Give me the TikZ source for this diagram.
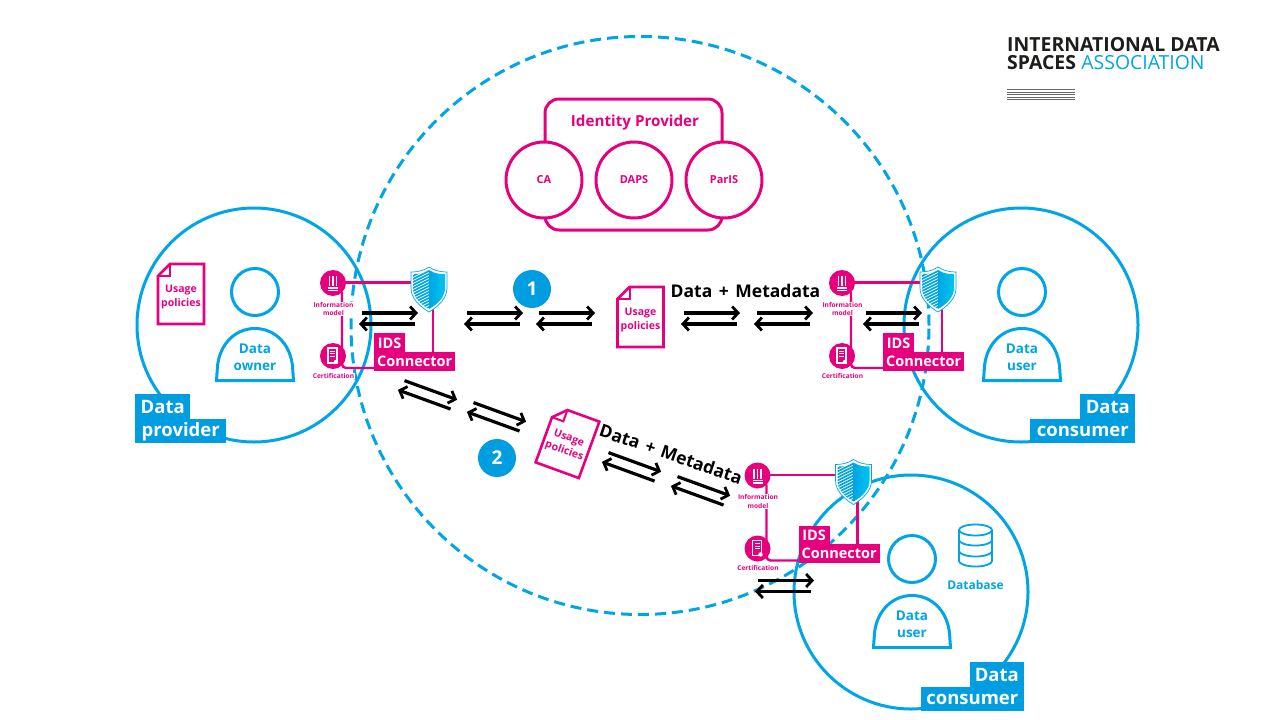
\documentclass[tikz,border=0pt]{standalone}
\usepackage{fontspec}
\setmainfont{Open Sans}
\usetikzlibrary{arrows.meta,shadings}
\definecolor{idsblue}{HTML}{00A5E5}
\definecolor{idsbox}{HTML}{009EE0}
\definecolor{idspink}{HTML}{E6007E}
\definecolor{logoblack}{HTML}{1D1D1B}
\tikzset{
  bigcircle/.style={draw=idsblue,line width=3pt,circle,fill=none,inner sep=0pt},
  dashcircle/.style={bigcircle,dash pattern=on 11pt off 6pt},
  blueline/.style={draw=idsblue,line width=3pt},
  pinkline/.style={draw=idspink,line width=2.4pt},
  bluetext/.style={text=idsblue,font=\fontsize{13.5}{17}\selectfont\bfseries,align=center,inner sep=0pt},
  pinktext/.style={text=idspink,font=\fontsize{10.5}{13.5}\selectfont\bfseries,align=center,inner sep=0pt},
  tinytext/.style={text=idspink,fill=white,font=\fontsize{6.6}{8.2}\selectfont\bfseries,align=center,inner sep=.5pt},
  bluebox/.style={fill=idsbox,text=white,font=\fontsize{18.5}{22}\selectfont\bfseries,inner sep=0pt},
  pinkbox/.style={fill=idspink,text=white,font=\fontsize{14.5}{18}\selectfont\bfseries,inner sep=0pt},
  caption/.style={text=black,font=\fontsize{17.5}{20}\selectfont\bfseries,inner sep=0pt},
  flow/.style={draw=black,line width=3.2pt,-{Straight Barb[length=6pt,width=13pt,line width=2.8pt]}},
  badge/.style={circle,fill=idsbox,text=white,minimum size=38pt,inner sep=0pt,font=\fontsize{19}{22}\selectfont\bfseries},
  idpcircle/.style={circle,draw=idspink,line width=3pt,fill=white,minimum size=76pt,inner sep=0pt,text=idspink,font=\fontsize{11}{13}\selectfont\bfseries},
  iconcircle/.style={circle,fill=idspink,minimum size=26pt,inner sep=0pt},
  logotext/.style={inner sep=0pt,anchor=base west,font=\fontsize{19.4}{22}\selectfont}
}
% pair of opposite arrows
\newcommand{\flowpair}[3]{%
  \begin{scope}[shift={(#2)},rotate=#3]
    \coordinate (#1a) at (-27,-5.5);
    \coordinate (#1b) at (29,-5.5);
    \coordinate (#1c) at (26,5.5);
    \coordinate (#1d) at (-30,5.5);
  \end{scope}
  \draw[flow] (#1a) -- (#1b);
  \draw[flow] (#1c) -- (#1d);
}
% person icon
\newcommand{\person}[4]{%
  \begin{scope}[shift={(#2,#3)}]
    \node[bigcircle,minimum size=47pt] (#1head) at (255,292) {};
    \draw[blueline] (216.5,380.5) -- (217.5,366) .. controls (220,343) and (236,328.5) .. (255,328.5)
       .. controls (274,328.5) and (290,343) .. (292.5,366) -- (293.5,380.5) -- cycle;
    \node[bluetext] (#1text) at (255,357.5) {#4};
  \end{scope}
}
% usage policy sheet
\newcommand{\usagedoc}[3]{%
  \begin{scope}[shift={(#2)},rotate=#3]
    \draw[pinkline,line width=2.6pt,fill=white] (-11,-30) -- (23,-30) -- (23,30) -- (-23,30) -- (-23,-18) -- cycle;
    \draw[pinkline,line width=2pt] (-11,-30) -- (-11,-18) -- (-23,-18);
    \node[pinktext,rotate=#3] (#1) at (0,3) {Usage\\policies};
  \end{scope}
}
% connector block
\newcommand{\idsblock}[3]{%
  \begin{scope}[shift={(#2,#3)}]
    \coordinate (#1corner) at (342,368);
    \coordinate (#1top) at (433,282.5);
    \draw[pinkline] (333,282.5) -- (#1top);
    \draw[pinkline,rounded corners=4pt] (342,292) -- (#1corner) -- (374,368);
    \draw[pinkline] (433,305) -- (433,352);
    \node[iconcircle] (#1info) at (333,283) {};
    \node[iconcircle] (#1cert) at (333,356) {};
    \node[pinkbox,anchor=north west,minimum width=31pt,minimum height=20pt] (#1ids) at (374,333) {IDS};
    \node[pinkbox,anchor=north west,minimum width=81pt,minimum height=19pt] (#1conn) at (374,351.5) {Connector};
    % shield
    \begin{scope}[shift={(429,290)}]
      \path[fill=white] (0,-23) .. controls (-6,-19) and (-12,-18) .. (-18,-18) -- (-18,-2) .. controls (-18,8) and (-10,16) .. (0,22)
        .. controls (10,16) and (18,8) .. (18,-2) -- (18,-18) .. controls (12,-18) and (6,-19) .. (0,-23) -- cycle;
      \begin{scope}
        \clip (0,-20) .. controls (-6,-16) and (-11,-16) .. (-16,-16) -- (-16,-2) .. controls (-16,7) and (-9,14) .. (0,19) -- cycle;
        \foreach \k in {-22,-19,...,26}{\draw[idsblue,line width=1.6pt] (-18,\k) -- (2,\k-10);}
      \end{scope}
      \shade[left color=idsblue,right color=idsblue!65!cyan]
        (0,-20) .. controls (6,-16) and (11,-16) .. (16,-16) -- (16,-2) .. controls (16,7) and (9,14) .. (0,19) -- cycle;
      \draw[idsblue,line width=.7pt] (0,-23) .. controls (-6,-19) and (-12,-18) .. (-18,-18) -- (-18,-2) .. controls (-18,8) and (-10,16) .. (0,22)
        .. controls (10,16) and (18,8) .. (18,-2) -- (18,-18) .. controls (12,-18) and (6,-19) .. (0,-23) -- cycle;
    \end{scope}
    % information model icon
    \foreach \dx in {-3.5,0,3.5}{\draw[white,line width=1.4pt] (333+\dx,276) -- (333+\dx,286);}
    \draw[white,line width=1.1pt] (328,288) -- (338,288) (328,290.5) -- (338,290.5);
    % certification icon
    \draw[white,line width=1.1pt] (328,348) rectangle (337,363);
    \draw[white,line width=.8pt] (330,351) -- (335,351) (330,353.5) -- (335,353.5) (330,356) -- (335,356);
    \fill[white] (336,362) circle (2.2);
    \node[tinytext] (#1infotext) at (333.5,309) {Information\\model};
    \node[tinytext] (#1certtext) at (333.5,376) {Certification};
  \end{scope}
}
\begin{document}
\begin{tikzpicture}[x=1pt,y=-1pt]
\useasboundingbox[fill=white] (0,0) rectangle (1280,720);
% large circles
\node[bigcircle,minimum size=234pt] (provider) at (254,325) {};
\node[bigcircle,minimum size=234pt] (consumerA) at (1021,325) {};
\node[bigcircle,minimum size=234pt] (consumerB) at (911,592) {};
\node[dashcircle,minimum size=578pt] (space) at (640,325.5) {};
% persons
\person{owner}{0}{0}{Data\\owner}
\person{userA}{767}{0}{Data\\user}
\person{userB}{657}{267}{Data\\user}
% identity provider
\node[draw=idspink,line width=3pt,rounded corners=14pt,minimum width=177pt,minimum height=131pt,inner sep=0pt] (idp) at (633.5,164.5) {};
\node[text=idspink,font=\fontsize{15.2}{18}\selectfont\bfseries,inner sep=0pt] (idptext) at (635,122.5) {Identity Provider};
\node[idpcircle] (ca) at (544,180) {CA};
\node[idpcircle] (daps) at (634,180) {DAPS};
\node[idpcircle] (paris) at (724,180) {ParIS};
% usage policies
\usagedoc{docA}{181,294}{0}
\usagedoc{docB}{640.5,317}{0}
\usagedoc{docC}{567.5,442}{-20}
% connectors
\idsblock{left}{0}{0}
\idsblock{right}{509}{0}
\idsblock{low}{424.5}{192.5}
% flows
\flowpair{fa}{389,318.5}{0}
\flowpair{fb}{494,318.5}{0}
\flowpair{fc}{566,318.5}{0}
\flowpair{fd}{711,318.5}{0}
\flowpair{fe}{784,318.5}{0}
\flowpair{ff}{893,318.5}{0}
\flowpair{fg}{785,586}{0}
\flowpair{fh}{428,395}{-20}
\flowpair{fi}{497,417}{-20}
\flowpair{fj}{632,467}{-20}
\flowpair{fk}{701,491}{-20}
% badges
\node[badge] (one) at (532,289) {1};
\node[badge] (two) at (497,458) {2};
% captions
\node[caption] (capA) at (745.5,290.5) {Data\hspace{2pt} + \hspace{2pt}Metadata};
\node[caption,rotate=-19] (capB) at (671,454) {Data\hspace{2pt} + \hspace{2pt}Metadata};
% role labels
\node[bluebox,anchor=north west,minimum width=55pt,minimum height=25pt] (provA) at (135,394) {Data};
\node[bluebox,anchor=north west,minimum width=91pt,minimum height=24pt] (provB) at (135,419) {provider};
\node[bluebox,anchor=north east,minimum width=55pt,minimum height=25pt] (conAa) at (1135.5,394) {Data};
\node[bluebox,anchor=north east,minimum width=105pt,minimum height=24pt] (conAb) at (1135.5,419) {consumer};
\node[bluebox,anchor=north east,minimum width=54pt,minimum height=25pt] (conBa) at (1024,662) {Data};
\node[bluebox,anchor=north east,minimum width=103pt,minimum height=24pt] (conBb) at (1024,687) {consumer};
% database
\begin{scope}[idsblue,line width=1.8pt]
  \draw (959,530) -- (959,561) arc[start angle=180,end angle=0,x radius=16.5,y radius=5.5] -- (992,530);
  \draw (975.5,530) ellipse[x radius=16.5,y radius=5.5];
  \draw (959,540) arc[start angle=180,end angle=0,x radius=16.5,y radius=5.5];
  \draw (959,551) arc[start angle=180,end angle=0,x radius=16.5,y radius=5.5];
\end{scope}
\node[bluetext,font=\fontsize{12}{14}\selectfont\bfseries] (db) at (975.5,585) {Database};
% logo
\node[logotext,text=logoblack] (logoA) at (1007,51.5) {\bfseries INTERNATIONAL DATA};
\node[logotext,text=logoblack] (logoB) at (1007,69) {\bfseries SPACES};
\node[logotext,text=idsblue] (logoC) at (logoB.base east) [anchor=base west,xshift=5pt] {ASSOCIATION};
\foreach \k in {89.5,92,94.5,97,99.5}{\draw[black!60,line width=1pt] (1007,\k) -- (1075,\k);}
\end{tikzpicture}
\end{document}
